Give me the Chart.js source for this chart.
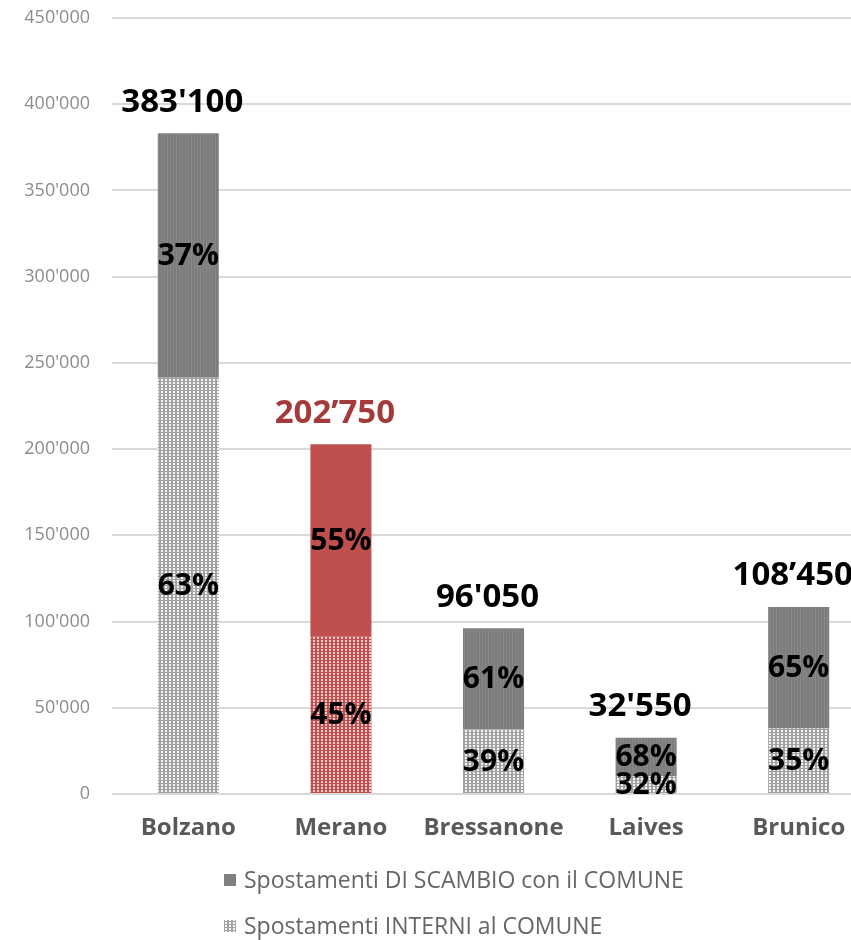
<!DOCTYPE html>
<html><head><meta charset="utf-8">
<script src="https://cdn.jsdelivr.net/npm/chart.js@4.4.1/dist/chart.umd.min.js"></script>
<style>
html,body{margin:0;padding:0;overflow:hidden;background:#fff;width:851px;height:940px}
#wrap{position:absolute;left:0;top:0;width:875px;height:940px}
</style>
</head><body><div id="wrap"><canvas id="c" width="875" height="940"></canvas></div>
<script>
// ---- data ----
const categories = ['Bolzano', 'Merano', 'Bressanone', 'Laives', 'Brunico'];
const interni = [241350, 91240, 37460, 10420, 37960];
const scambio = [141750, 111510, 58590, 22130, 70490];
const totalLabels = ["383'100", "202’750", "96'050", "32'550", "108’450"];
const pctInterni = ['63%', '45%', '39%', '32%', '35%'];
const pctScambio = ['37%', '55%', '61%', '68%', '65%'];
const seriesNames = ['Spostamenti DI SCAMBIO con il COMUNE', 'Spostamenti INTERNI al COMUNE'];
const yMax = 450000;
const yStep = 50000;
const highlightIndex = 1;

// ---- styles ----
const FONT = "'Open Sans', 'Liberation Sans', sans-serif";
const RED = '#c0504d';

function makePattern(w, h, bg, dot, dx, dy, dw, dh) {
  const c = document.createElement('canvas');
  c.width = w; c.height = h;
  const x = c.getContext('2d');
  x.fillStyle = bg; x.fillRect(0, 0, w, h);
  x.fillStyle = dot; x.fillRect(dx, dy, dw, dh);
  return document.getElementById('c').getContext('2d').createPattern(c, 'repeat');
}
const patGray = makePattern(4, 3, '#a2a2a2', '#f4f4f4', 1, 1, 2, 2);
const patRed = makePattern(4, 3, '#c0504d', '#f2cccc', 1, 1, 2, 2);
const patDark = makePattern(3, 1, '#7c7c7c', '#888888', 2, 0, 1, 1);

const scambioColors = categories.map((_, i) => i === highlightIndex ? RED : patDark);
const interniColors = categories.map((_, i) => i === highlightIndex ? patRed : patGray);

function fmt(v) { return String(v).replace(/\B(?=(\d{3})+(?!\d))/g, "'"); }

const labelsPlugin = {
  id: 'barLabels',
  afterDatasetsDraw(chart) {
    const ctx = chart.ctx;
    ctx.save();
    ctx.textAlign = 'center';
    ctx.textBaseline = 'middle';
    const m0 = chart.getDatasetMeta(0), m1 = chart.getDatasetMeta(1);
    ctx.fillStyle = '#000';
    ctx.font = "bold 30px " + FONT;
    m0.data.forEach((el, i) => {
      ctx.fillText(pctInterni[i], el.x, (el.y + el.base) / 2 + 1);
    });
    m1.data.forEach((el, i) => {
      ctx.fillText(pctScambio[i], el.x, (el.y + el.base) / 2 + 1);
    });
    ctx.font = "bold 33px " + FONT;
    m1.data.forEach((el, i) => {
      ctx.fillStyle = i === highlightIndex ? '#a53a3a' : '#000';
      ctx.fillText(totalLabels[i], el.x - 6, el.y - 31);
    });
    ctx.restore();
  }
};

const legendPlugin = {
  id: 'stackLegend',
  afterDraw(chart) {
    const ctx = chart.ctx;
    ctx.save();
    ctx.font = "23px " + FONT;
    ctx.textBaseline = 'middle';
    ctx.textAlign = 'left';
    const items = [
      { text: seriesNames[0], fill: '#7f7f7f', y: 880 },
      { text: seriesNames[1], fill: patGray, y: 926 }
    ];
    items.forEach(it => {
      ctx.fillStyle = it.fill;
      ctx.fillRect(224, it.y - 6, 12, 12);
      ctx.fillStyle = '#666666';
      ctx.fillText(it.text, 244, it.y + 1);
    });
    ctx.restore();
  }
};

new Chart(document.getElementById('c'), {
  type: 'bar',
  data: {
    labels: categories,
    datasets: [
      { label: seriesNames[1], data: interni, backgroundColor: interniColors, borderWidth: 0 },
      { label: seriesNames[0], data: scambio, backgroundColor: scambioColors, borderWidth: 0 }
    ]
  },
  options: {
    responsive: false,
    animation: false,
    devicePixelRatio: 1,
    layout: { padding: { top: 18, bottom: 90, left: 0, right: 0 } },
    datasets: { bar: { barPercentage: 0.4, categoryPercentage: 1.0 } },
    plugins: { legend: { display: false }, tooltip: { enabled: false } },
    scales: {
      x: {
        stacked: true,
        grid: { display: false, drawTicks: false },
        border: { display: false },
        ticks: { color: '#595959', font: { family: FONT, size: 24, weight: 'bold' }, padding: 20 },
        afterFit(s) { s.height = 56; }
      },
      y: {
        stacked: true,
        min: 0, max: yMax,
        grid: { color: '#d9d9d9', lineWidth: 2, drawTicks: false },
        border: { display: false },
        ticks: { stepSize: yStep, color: '#8c8c8c', font: { family: FONT, size: 18 }, padding: 22, callback: v => fmt(v) },
        afterFit(s) { s.width = 112; s.paddingTop = 0; s.paddingBottom = 0; }
      }
    }
  },
  plugins: [labelsPlugin, legendPlugin]
});
</script>
</body></html>
